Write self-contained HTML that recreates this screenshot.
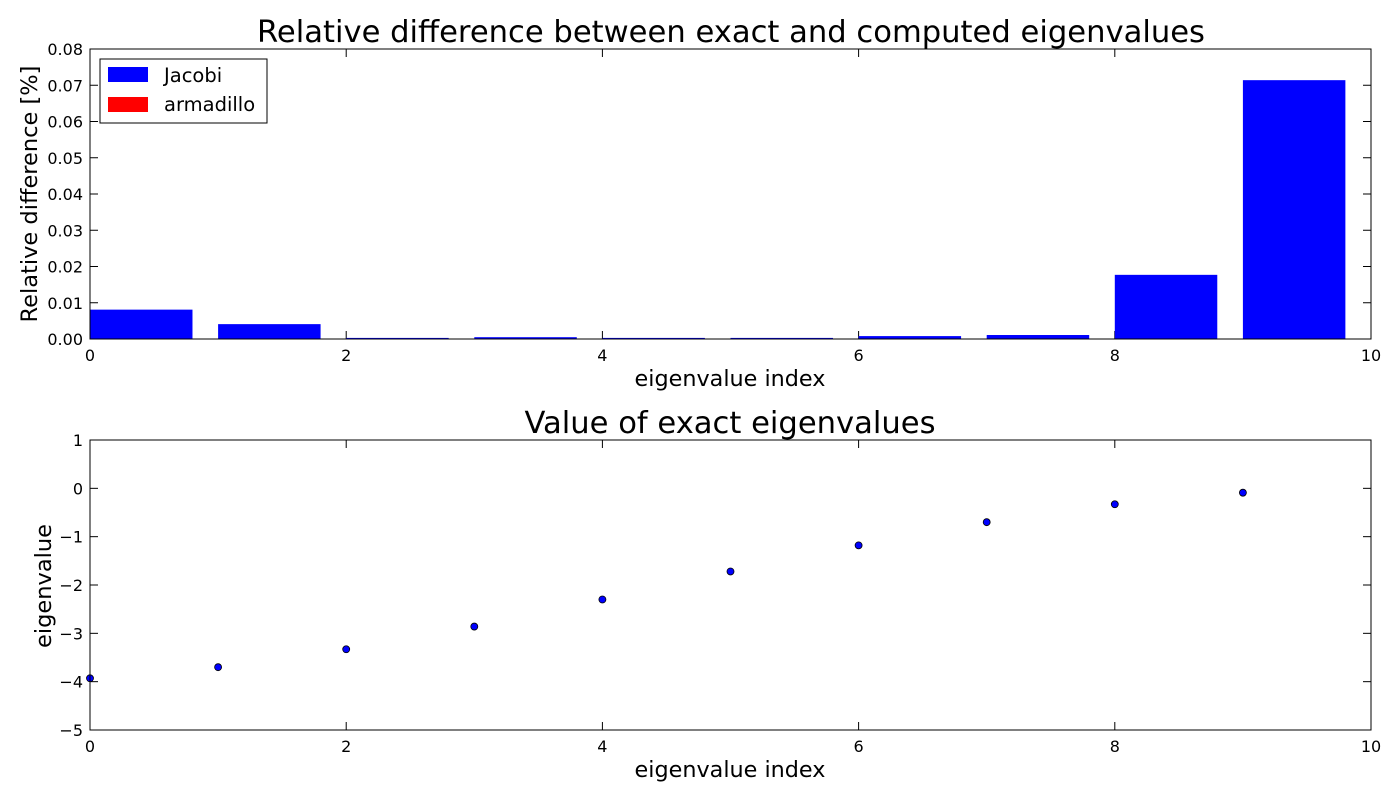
<!DOCTYPE html>
<html><head><meta charset="utf-8"><style>
html,body{margin:0;padding:0;background:#fff;}
svg{display:block;font-family:"DejaVu Sans","Liberation Sans",sans-serif;}
</style></head><body>
<svg id="fig" width="1400" height="800"></svg>
<script>
const barCategories=[0,1,2,3,4,5,6,7,8,9];
const jacobiValues=[0.0081,0.0041,0.0003,0.0005,0.0003,0.0003,0.0008,0.0011,0.0177,0.0714];
const armadilloValues=[0,0,0,0,0,0,0,0,0,0];
const topXTicks=[0,2,4,6,8,10];
const topYTicks=[0,0.01,0.02,0.03,0.04,0.05,0.06,0.07,0.08];
const topYLabels=["0.00","0.01","0.02","0.03","0.04","0.05","0.06","0.07","0.08"];
const scatterIndex=[0,1,2,3,4,5,6,7,8,9];
const eigenValues=[-3.93,-3.70,-3.33,-2.86,-2.30,-1.72,-1.18,-0.70,-0.33,-0.09];
const botXTicks=[0,2,4,6,8,10];
const botYTicks=[-5,-4,-3,-2,-1,0,1];
const botYLabels=["\u22125","\u22124","\u22123","\u22122","\u22121","0","1"];

const NS="http://www.w3.org/2000/svg";
const svg=document.getElementById('fig');
function mk(tag,attrs,parent,name,inter){
  const e=document.createElementNS(NS,tag);
  for(const k in attrs)e.setAttribute(k,attrs[k]);
  
  
  (parent||svg).appendChild(e);return e;
}
function txt(x,y,s,size,anchor,name,extra){
  const t=mk('text',Object.assign({x:x,y:y,'font-size':size,'text-anchor':anchor||'middle',fill:'#000'},extra||{}),svg,name,false);
  t.textContent=s;return t;
}
const L=90,R=1371;
function panel(top,bot,xmin,xmax,ymin,ymax,xt,yt,ytl,prefix){
  const sx=v=>L+(v-xmin)/(xmax-xmin)*(R-L);
  const sy=v=>bot-(v-ymin)/(ymax-ymin)*(bot-top);
  xt.forEach((v,i)=>{
    const x=sx(v);
    mk('line',{x1:x,x2:x,y1:bot,y2:bot-8,stroke:'#000'},svg,prefix+'-x-tick',false);
    mk('line',{x1:x,x2:x,y1:top,y2:top+8,stroke:'#000'},svg,prefix+'-x-tick-top',false);
    txt(x,bot+22,String(v),16,'middle',prefix+'-x-tick-label');
  });
  yt.forEach((v,i)=>{
    const y=sy(v);
    mk('line',{x1:L,x2:L+8,y1:y,y2:y,stroke:'#000'},svg,prefix+'-y-tick',false);
    mk('line',{x1:R,x2:R-8,y1:y,y2:y,stroke:'#000'},svg,prefix+'-y-tick-right',false);
    txt(L-7,y+6,ytl[i],16,'end',prefix+'-y-tick-label');
  });
  return {sx,sy};
}
// Top panel
const T=panel(49,339,0,10,0,0.08,topXTicks,topYTicks,topYLabels,'top');
barCategories.forEach((c,i)=>{
  const x0=T.sx(c),x1=T.sx(c+0.8);
  const y=T.sy(jacobiValues[i]);
  const b=mk('rect',{x:x0,y:y,width:x1-x0,height:T.sy(0)-y,fill:'#0000ff'},svg,'jacobi-bar',false);
  
});
mk('rect',{x:L,y:49,width:R-L,height:290,fill:'none',stroke:'#000','stroke-width':1},svg,'top-plot-frame',false);
txt(731,42,'Relative difference between exact and computed eigenvalues',30.6,'middle','top-title');
txt(730,386,'eigenvalue index',22.3,'middle','top-x-axis-title');
txt(37,194,'Relative difference [%]',22.5,'middle','top-y-axis-title',{transform:'rotate(-90 37 194)'});
// legend
mk('rect',{x:100,y:59,width:167,height:64,fill:'#fff',stroke:'#000'},svg,'legend-box',false);
mk('rect',{x:108,y:67,width:40,height:15,fill:'#0000ff'},svg,'legend-jacobi-swatch',false);
txt(164,82,'Jacobi',19.5,'start','legend-jacobi-label');
mk('rect',{x:108,y:97,width:40,height:15,fill:'#ff0000'},svg,'legend-armadillo-swatch',false);
txt(164,111,'armadillo',19.5,'start','legend-armadillo-label');
// Bottom panel
const B=panel(440,730,0,10,-5,1,botXTicks,botYTicks,botYLabels,'bottom');
scatterIndex.forEach((c,i)=>{
  const p=mk('circle',{cx:B.sx(c),cy:B.sy(eigenValues[i]),r:3.5,fill:'#0000ff',stroke:'#000','stroke-width':0.8},svg,'eigen-point',false);
  
});
mk('rect',{x:L,y:440,width:R-L,height:290,fill:'none',stroke:'#000'},svg,'bottom-plot-frame',false);
txt(730,433,'Value of exact eigenvalues',30.6,'middle','bottom-title');
txt(730,777,'eigenvalue index',22.3,'middle','bottom-x-axis-title');
txt(51,586,'eigenvalue',22.5,'middle','bottom-y-axis-title',{transform:'rotate(-90 51 586)'});
</script>
</body></html>
